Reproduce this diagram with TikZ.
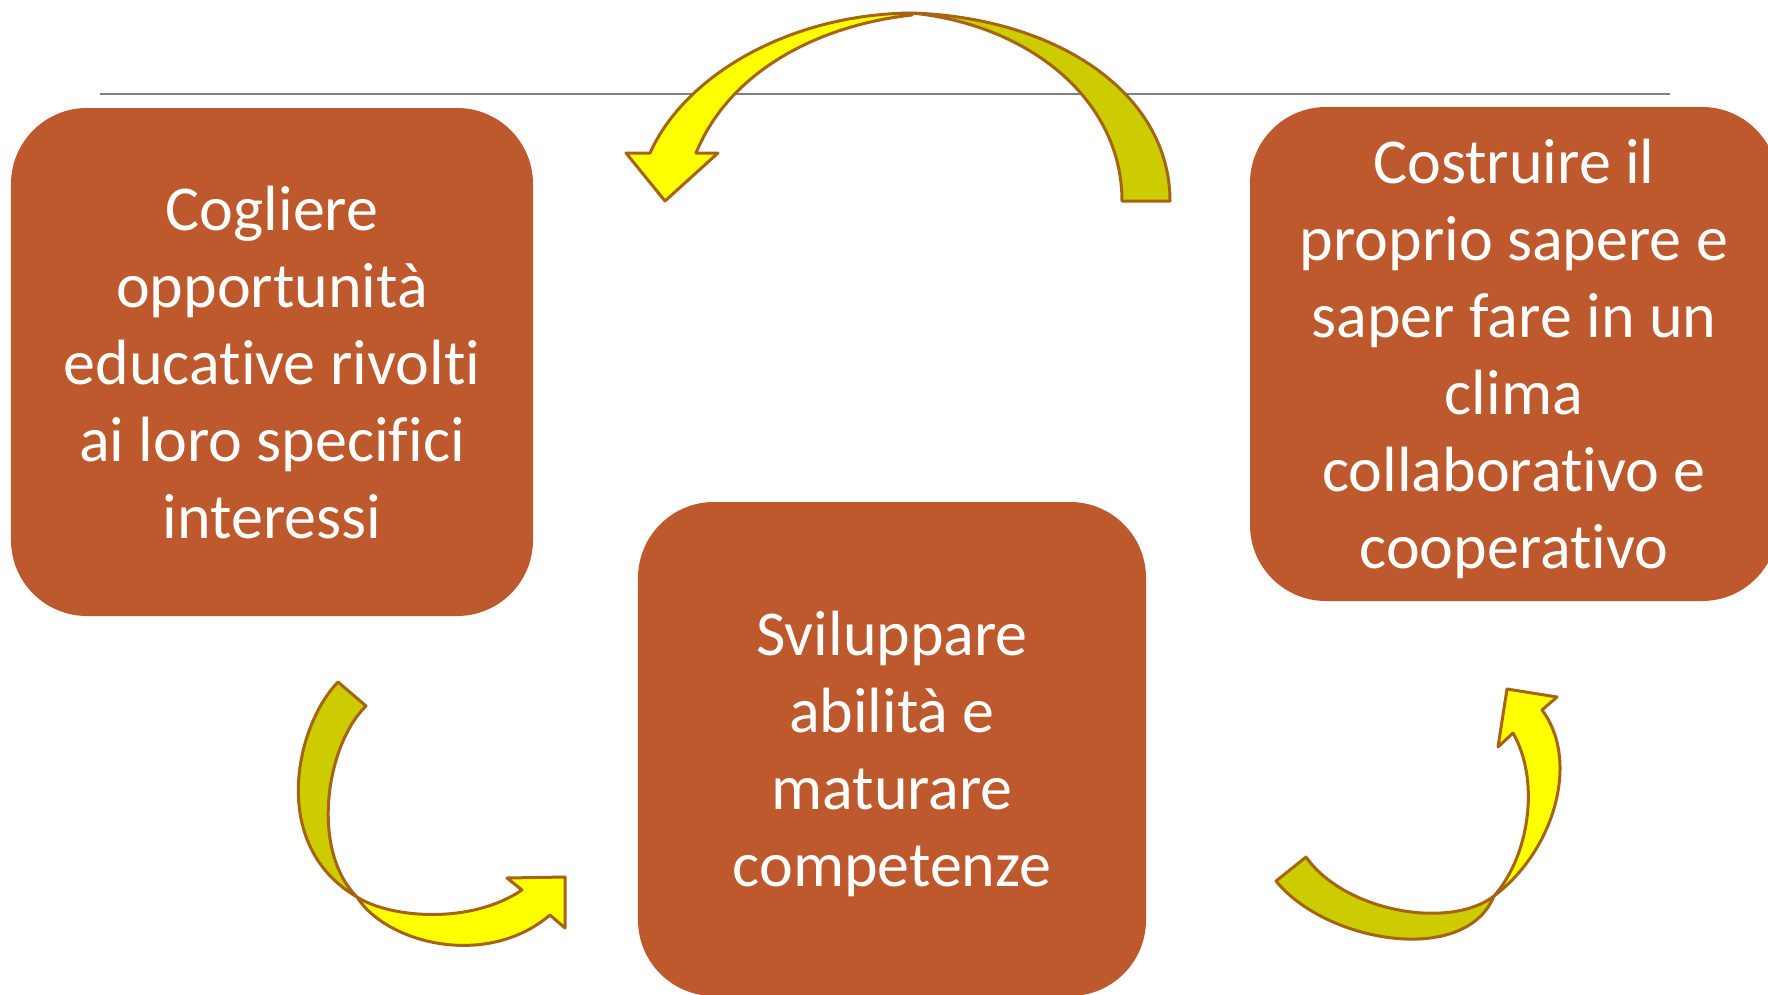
\documentclass[tikz,border=0pt]{standalone}
\usepackage{fontspec}
\setmainfont{Carlito}[Ligatures=NoCommon]
\usepackage{tikz}
\usetikzlibrary{shapes}
\definecolor{boxfill}{RGB}{190,89,45}
\definecolor{arrowlight}{RGB}{255,255,0}
\definecolor{arrowdark}{RGB}{204,204,0}
\definecolor{arrowedge}{RGB}{166,100,18}
\definecolor{rulegray}{RGB}{128,128,128}
\newcommand\boxfont{\fontsize{32bp}{38.5bp}\selectfont}

\begin{document}
\begin{tikzpicture}[x=0.5bp,y=-0.5bp,line join=round,
  box/.style={rectangle,rounded corners=38bp,fill=boxfill,text=white,
    align=center,font=\boxfont,inner sep=0pt,text depth=-2bp},
  front/.style={fill=arrowlight,draw=arrowedge,line width=1.5bp},
  back/.style={fill=arrowdark,draw=arrowedge,line width=1.5bp}]
\useasboundingbox (0,0) rectangle (1768,994);
%%
\draw [rulegray,line width=1.2bp] (100,94) -- (1670,94);
\begin{scope}
  \node (Cogliere) at (272,362) [box,minimum width=261bp,minimum height=254bp]
    {Cogliere\\opportunità\\educative rivolti\\ai loro specifici\\interessi};
  \node (Sviluppare) at (892,749) [box,minimum width=254bp,minimum height=247bp]
    {Sviluppare\\abilità e\\maturare\\competenze};
  \node (Costruire) at (1514,354) [box,minimum width=264bp,minimum height=247bp]
    {Costruire il\\proprio sapere e\\saper fare in un\\clima\\collaborativo e\\cooperativo};
\end{scope}
% top arrow
\begin{scope}
  \draw [back] (1170,201) ..controls (1170,95) and (1060,18) .. (912,13)
    ..controls (1030,25) and (1122,100) .. (1122,201) -- cycle;
  \draw [front] (912,13) ..controls (790,14) and (685,75) .. (650,153)
    -- (626,153) -- (665,201) -- (718,153) -- (696,153)
    ..controls (730,70) and (820,25) .. (912,15) -- cycle;
\end{scope}
% bottom left arrow
\begin{scope}
  \draw [back] (338,682) ..controls (296,725) and (268,845) .. (357,897)
    ..controls (310,850) and (326,745) .. (366,706) -- cycle;
  \draw [front] (357,897) ..controls (390,918) and (470,925) .. (522,890)
    -- (507,878) -- (565,877) -- (565,928) -- (550,915)
    ..controls (485,970) and (385,942) .. (357,897) -- cycle;
\end{scope}
% bottom right arrow
\begin{scope}
  \draw [back] (1276,881) ..controls (1325,942) and (1465,967) .. (1494,896)
    ..controls (1450,930) and (1345,912) .. (1306,857) -- cycle;
  \draw [front] (1494,896) ..controls (1530,855) and (1540,780) .. (1513,733)
    -- (1498,747) -- (1507,689) -- (1557,697) -- (1542,710)
    ..controls (1580,760) and (1555,850) .. (1494,896) -- cycle;
\end{scope}
%
\end{tikzpicture}
\end{document}
